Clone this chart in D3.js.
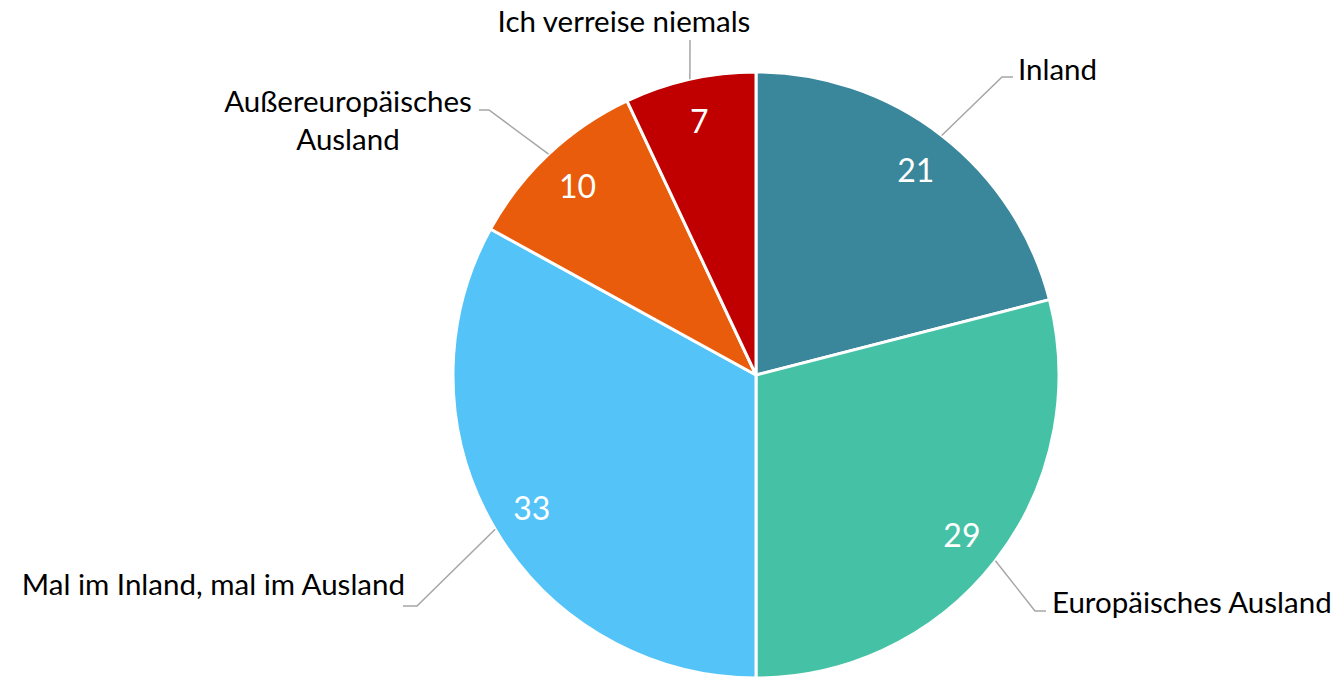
<!DOCTYPE html>
<html>
<head>
<meta charset="utf-8">
<script src="https://cdn.jsdelivr.net/npm/d3@7"></script>
<style>
  html, body { margin: 0; padding: 0; background: #fff; }
  svg { display: block; }
</style>
</head>
<body>
<div id="chart"></div>
<script>
// Chart data
const categories = ["Inland", "Europäisches Ausland", "Mal im Inland, mal im Ausland", "Außereuropäisches Ausland", "Ich verreise niemals"];
const values = [21, 29, 33, 10, 7];
const colors = ["#3A869B", "#45C2A5", "#54C3F8", "#E95C0C", "#C00000"];

// Label text lines (as in the reference)
const labelLines = [["Inland"], ["Europäisches Ausland"], ["Mal im Inland, mal im Ausland"], ["Außereuropäisches", "Ausland"], ["Ich verreise niemals"]];

const width = 1340, height = 679;
const cx = 756, cy = 375, radius = 303;

// Leader line layout: elbow offset from center, horizontal stub, text offset from stub end
const leaderLayout = [
    { elbow: [246, -298], stub: 11, text: [5, -9], anchor: "start" },
    { elbow: [279, 236], stub: 11, text: [6, -10], anchor: "start" },
    { elbow: [-339, 231], stub: -14, text: [2, -23], anchor: "end" },
    { elbow: [-267, -265], stub: -10, text: [-131, 9], anchor: "middle" },
    { elbow: [-66, -335], stub: 0, text: [-66, -20], anchor: "middle" }
];

const svg = d3.select("#chart").append("svg")
    .attr("width", width)
    .attr("height", height);

const g = svg.append("g").attr("transform", `translate(${cx},${cy})`);

const pie = d3.pie().sort(null).value(d => d);
const arcs = pie(values);

const arc = d3.arc().innerRadius(0).outerRadius(radius);
const labelArc = d3.arc().innerRadius(radius * 0.86).outerRadius(radius * 0.86);

g.selectAll("path.slice")
    .data(arcs)
    .enter()
    .append("path")
    .attr("class", "slice")
    .attr("d", arc)
    .attr("fill", (d, i) => colors[i])
    .attr("stroke", "#fff")
    .attr("stroke-width", 3)
    .attr("stroke-linejoin", "round");

// Value labels inside the slices
g.selectAll("text.value")
    .data(arcs)
    .enter()
    .append("text")
    .attr("class", "value")
    .attr("transform", d => `translate(${labelArc.centroid(d)})`)
    .attr("text-anchor", "middle")
    .attr("dominant-baseline", "central")
    .style("font-family", "Lato, 'Open Sans', sans-serif")
    .style("font-size", "32px")
    .attr("fill", "#fff")
    .text(d => d.value);

// Leader lines and category labels
const pt = (angle, r) => [Math.sin(angle) * r, -Math.cos(angle) * r];

arcs.forEach((d, i) => {
    const mid = (d.startAngle + d.endAngle) / 2;
    const lay = leaderLayout[i];
    const p0 = pt(mid, radius);
    const p1 = lay.elbow;
    const p2 = [p1[0] + lay.stub, p1[1]];

    g.append("polyline")
        .attr("points", [p0, p1, p2].map(p => p.join(",")).join(" "))
        .attr("fill", "none")
        .attr("stroke", "#A6A6A6")
        .attr("stroke-width", 1.5);

    const lines = labelLines[i];
    const lineH = 38;
    const tx = p2[0] + lay.text[0];
    const ty = p2[1] + lay.text[1];

    const t = g.append("text")
        .attr("text-anchor", lay.anchor)
        .style("font-family", "Lato, 'Open Sans', sans-serif")
        .style("font-size", "29.5px")
        .attr("fill", "#000");
    lines.forEach((line, k) => {
        t.append("tspan")
            .attr("x", tx)
            .attr("y", ty + (k - (lines.length - 1) / 2) * lineH)
            .attr("dominant-baseline", "central")
            .text(line);
    });
});
</script>
</body>
</html>
